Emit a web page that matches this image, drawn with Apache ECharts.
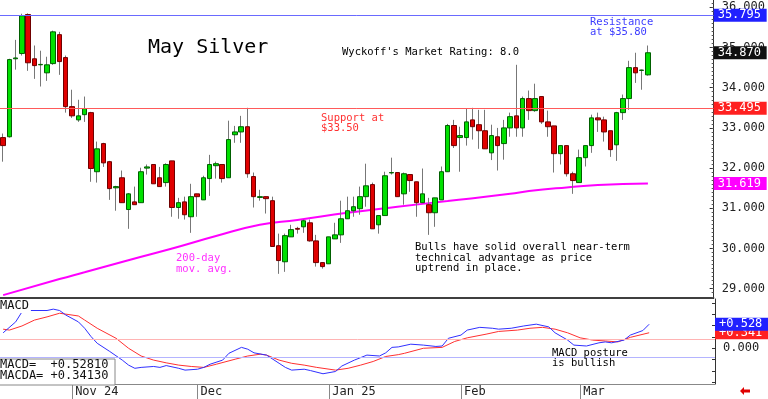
<!DOCTYPE html>
<html>
<head>
<meta charset="utf-8">
<script src="https://cdn.jsdelivr.net/npm/echarts@6/dist/echarts.min.js"></script>
<style>
html,body{margin:0;padding:0;background:#fff}
#main{width:768px;height:399px}
</style>
</head>
<body>
<div id="main"></div>
<script>
// daily candles, Oct 17 2024 .. Mar 18 2025
const opens  = [32.76,32.78,34.72,34.85,35.82,34.72,34.57,34.37,34.60,35.32,34.75,33.53,33.20,33.33,33.38,31.91,32.61,32.16,31.51,31.76,
  30.97,31.16,31.14,32.00,32.09,31.76,31.64,32.18,31.02,31.16,30.79,31.36,31.21,31.74,32.06,32.09,31.76,32.83,32.90,33.03,
  31.79,31.27,31.29,31.19,30.07,29.67,30.29,30.50,30.54,30.64,30.19,29.65,29.62,30.24,30.34,30.74,30.94,30.99,31.29,31.59,
  30.59,30.82,31.88,31.89,31.36,31.84,31.66,31.14,31.09,30.89,31.21,31.91,33.06,32.76,32.76,33.20,33.08,32.93,32.38,32.78,
  32.61,33.00,33.30,33.00,33.73,33.43,33.78,33.15,33.05,32.36,32.56,31.86,31.64,32.26,32.56,33.25,33.20,32.93,32.58,33.38,
  33.73,34.50,34.43,34.32];
const closes = [32.56,34.70,34.74,35.79,34.62,34.55,34.58,34.57,35.39,34.65,33.53,33.30,33.30,33.48,31.99,32.48,32.13,31.49,31.54,31.14,
  31.36,31.09,31.91,32.03,31.61,31.54,32.09,31.02,31.14,30.84,31.29,31.29,31.76,32.09,32.11,31.74,32.71,32.90,33.03,31.86,
  31.29,31.29,31.24,30.05,29.70,30.32,30.47,30.48,30.69,30.19,29.65,29.55,30.29,30.34,30.74,30.94,31.04,31.29,31.56,30.49,
  30.82,31.81,31.89,31.29,31.86,31.69,31.14,31.36,30.89,31.26,31.91,33.06,32.56,32.81,33.15,33.03,32.93,32.48,32.81,32.56,
  33.00,33.28,33.00,33.73,33.43,33.73,33.15,33.03,32.36,32.56,31.86,31.69,32.26,32.56,33.25,33.20,32.90,32.46,33.38,33.73,
  34.50,34.37,34.44,34.87];
const lows   = [32.16,32.76,34.45,34.80,34.42,34.22,34.03,34.17,34.57,34.32,33.38,33.25,33.15,33.15,31.66,31.64,32.03,31.21,30.94,31.14,
  30.49,31.09,31.14,31.84,31.61,31.54,31.54,30.79,30.74,30.72,30.39,30.79,31.21,31.31,31.74,31.64,31.76,32.63,32.63,31.76,
  31.02,31.19,30.87,30.05,29.37,29.42,30.29,30.37,30.39,30.17,29.55,29.50,29.62,30.24,30.14,30.74,30.79,30.84,31.04,30.49,
  30.37,30.82,31.84,31.29,31.09,31.41,30.79,31.14,30.34,30.54,31.21,31.91,32.50,31.91,32.56,32.71,32.48,32.48,32.20,31.94,
  32.21,32.78,32.78,32.78,33.20,33.40,33.10,32.78,31.89,32.09,31.79,31.36,31.64,32.04,32.38,32.90,32.66,32.28,32.18,33.20,
  33.45,34.12,33.95,34.30];
const highs  = [32.86,34.72,35.19,35.84,35.85,35.05,34.92,34.77,35.42,35.39,34.80,33.95,33.70,33.78,33.40,32.66,32.63,32.18,31.56,31.94,
  31.38,31.54,32.01,32.09,32.09,32.03,32.12,32.18,31.26,31.29,31.61,31.36,31.81,32.33,32.16,32.09,33.18,33.05,33.30,33.50,
  31.89,31.46,31.29,31.29,30.37,30.37,30.59,30.54,30.72,30.72,30.34,29.65,30.29,30.64,31.19,31.29,31.29,31.54,32.11,31.64,
  30.82,31.91,32.26,31.89,31.89,31.84,31.66,31.99,31.26,31.26,32.04,33.10,33.20,33.03,33.48,33.50,33.45,33.45,33.08,33.00,
  33.20,33.38,34.57,33.78,33.93,34.10,33.78,33.43,33.05,32.56,32.56,31.91,32.46,32.56,33.33,33.38,33.28,32.93,33.40,33.83,
  34.67,34.87,34.45,35.05];

// [day index, value]
const maPoints = [[0,28.84],[9,29.24],[13,29.41],[20,29.71],[27,30.00],[34,30.31],[41,30.59],[47,30.71],[55,30.89],
  [63,31.04],[71,31.18],[81,31.36],[84,31.43],[90,31.52],[95,31.58],[103,31.619]];
const macdPoints = [[0,0.34],[2,0.58],[3,0.80],[4,0.83],[7,0.83],[8,0.86],[9,0.83],[10,0.73],[12,0.58],[13,0.44],[14,0.26],
  [15,0.11],[17,-0.07],[19,-0.26],[20,-0.37],[21,-0.44],[22,-0.42],[24,-0.40],[25,-0.42],[26,-0.38],[28,-0.44],[29,-0.48],
  [31,-0.46],[32,-0.42],[33,-0.35],[35,-0.26],[36,-0.11],[38,0.02],[39,-0.02],[40,-0.10],[42,-0.15],[44,-0.33],[45,-0.42],
  [46,-0.48],[48,-0.46],[49,-0.49],[51,-0.56],[53,-0.51],[54,-0.39],[56,-0.26],[58,-0.15],[60,-0.17],[61,-0.10],[62,0.02],
  [63,0.03],[65,0.09],[67,0.07],[69,0.04],[70,0.05],[71,0.22],[73,0.29],[74,0.40],[76,0.46],[78,0.44],[79,0.42],[81,0.44],
  [83,0.49],[85,0.53],[87,0.47],[88,0.34],[90,0.18],[91,0.07],[93,0.05],[95,0.12],[96,0.14],[97,0.12],[99,0.18],[100,0.29],
  [102,0.39],[103,0.528]];
const signalPoints = [[0,0.42],[1,0.40],[3,0.49],[5,0.62],[7,0.69],[9,0.77],[10,0.75],[12,0.71],[13,0.62],[15,0.44],[18,0.22],
  [20,0.00],[22,-0.17],[24,-0.26],[26,-0.32],[28,-0.37],[30,-0.40],[32,-0.42],[34,-0.35],[37,-0.24],[39,-0.17],[41,-0.13],
  [42,-0.15],[44,-0.26],[46,-0.33],[48,-0.37],[50,-0.42],[53,-0.48],[55,-0.44],[57,-0.37],[59,-0.29],[61,-0.18],[63,-0.14],
  [64,-0.11],[67,0.00],[70,0.02],[72,0.15],[74,0.23],[77,0.31],[79,0.37],[82,0.40],[84,0.44],[86,0.46],[88,0.42],[90,0.34],
  [92,0.23],[94,0.18],[96,0.16],[98,0.14],[100,0.24],[103,0.341]];

const monthIdx = [11, 31, 52, 73, 92];
const monthLabels = ['Nov 24', 'Dec', 'Jan 25', 'Feb', 'Mar'];
const priceTicks = [29, 30, 31, 32, 33, 34, 35, 36];
const macdTicks = [-0.75, -0.5, -0.25, 0, 0.25, 0.5, 0.75, 1];
const resistance = 35.795, support = 33.495, lastClose = 34.870, lastMa = 31.619;
const lastMacd = 0.528, lastSignal = 0.341;
const totalSlots = 114;

const categories = [];
for (let i = 0; i < totalSlots; i++) categories.push(i);
const minorTicks = [];
for (let v = 288; v <= 362; v++) minorTicks.push(v / 10);

const wicks = opens.map((o, i) => [o, closes[i], lows[i], highs[i]]);
const bodies = opens.map((o, i) => [o, closes[i], Math.min(o, closes[i]), Math.max(o, closes[i])]);

const mono = 'DejaVu Sans Mono';
const clear = {color: 'rgba(0,0,0,0)'};

function boxLabel(text, bg) {
  return {show: true, position: 'end', distance: 0, formatter: text, color: '#fff', backgroundColor: bg,
    fontFamily: mono, fontSize: 12, lineHeight: 13, width: 47, padding: [0, 2, 0, 4]};
}
function note(text, x, top, color, size, lh) {
  return {type: 'text', x: x, y: top, z: 50, silent: true,
    style: {text: text, fill: color, font: size + 'px "' + mono + '"', lineHeight: lh, verticalAlign: 'top'}};
}

const chart = echarts.init(document.getElementById('main'));
chart.setOption({
  animation: false,
  backgroundColor: '#fff',
  grid: [
    {left: 0, right: 53, top: 0, height: 298},
    {left: 0, right: 53, top: 299, height: 85}
  ],
  xAxis: [
    {type: 'category', gridIndex: 0, data: categories, boundaryGap: true,
      axisLine: {onZero: false, lineStyle: {color: '#000', width: 1.5}}, axisTick: {show: false}, axisLabel: {show: false}},
    {type: 'category', gridIndex: 1, data: categories, boundaryGap: true,
      axisLine: {onZero: false, lineStyle: {color: '#888'}},
      axisTick: {show: true, alignWithLabel: true, length: 15, lineStyle: {color: '#888'},
        interval: (i) => monthIdx.includes(i)},
      axisLabel: {interval: (i) => monthIdx.includes(i), formatter: (v, i) => monthLabels[monthIdx.indexOf(i)],
        align: 'left', padding: [0, 0, 0, 3], margin: 2, fontFamily: mono, fontSize: 12, color: '#222'}}
  ],
  yAxis: [
    {type: 'value', gridIndex: 0, position: 'right', min: 28.769, max: 36.182, splitLine: {show: false},
      axisLine: {show: true, lineStyle: {color: '#333'}},
      axisTick: {show: true, inside: true, length: 4, customValues: priceTicks, lineStyle: {color: '#333'}},
      axisLabel: {customValues: priceTicks, formatter: (v) => v.toFixed(3), margin: 8,
        fontFamily: mono, fontSize: 12, color: '#222'}},
    {type: 'value', gridIndex: 0, position: 'right', min: 28.769, max: 36.182, splitLine: {show: false},
      axisLine: {show: false},
      axisTick: {show: true, inside: true, length: 2, customValues: minorTicks, lineStyle: {color: '#555'}},
      axisLabel: {show: false}},
    {type: 'value', gridIndex: 1, position: 'right', min: -0.785, max: 1.083, splitLine: {show: false},
      axisLine: {show: true, lineStyle: {color: '#333'}},
      axisTick: {show: true, inside: true, length: 3, customValues: macdTicks, lineStyle: {color: '#333'}},
      axisLabel: {customValues: [0], formatter: () => '0.000', margin: 8, fontFamily: mono, fontSize: 12, color: '#222'}}
  ],
  series: [
    {
      name: 'ma200', type: 'line', xAxisIndex: 0, yAxisIndex: 0, data: maPoints, smooth: true, symbol: 'none', z: 1,
      lineStyle: {color: '#ff00ff', width: 2},
      markLine: {silent: true, symbol: ['none', 'none'], animation: false,
        data: [{yAxis: lastMa, lineStyle: clear, label: boxLabel('31.619', '#ff00ff')}]}
    },
    {
      name: 'wicks', type: 'candlestick', xAxisIndex: 0, yAxisIndex: 0, data: wicks, barWidth: 1, z: 2,
      itemStyle: {color: '#777', color0: '#777', borderColor: '#777', borderColor0: '#777', borderColorDoji: '#777', borderWidth: 1}
    },
    {
      name: 'bodies', type: 'candlestick', xAxisIndex: 0, yAxisIndex: 0, data: bodies, barWidth: 5, z: 3,
      itemStyle: {color: '#00e000', color0: '#e00000', borderColor: '#006000', borderColor0: '#700000',
        borderColorDoji: '#006000', borderWidth: 1},
      markLine: {silent: true, symbol: ['none', 'none'], animation: false,
        data: [
          {yAxis: resistance, lineStyle: {color: '#6a6aff', width: 1, type: 'solid'}, label: boxLabel('35.795', '#2020ff')},
          {yAxis: support, lineStyle: {color: '#ff5a5a', width: 1, type: 'solid'}, label: boxLabel('33.495', '#ff2020')},
          {yAxis: lastClose, lineStyle: clear, label: boxLabel('34.870', '#111')}
        ]}
    },
    {
      name: 'signal', type: 'line', xAxisIndex: 1, yAxisIndex: 2, data: signalPoints, symbol: 'none',
      lineStyle: {color: '#ff3030', width: 1},
      markLine: {silent: true, symbol: ['none', 'none'], animation: false,
        data: [
          {yAxis: 0.2, lineStyle: {color: '#ffb4b4', width: 1, type: 'solid'}, label: {show: false}},
          {yAxis: -0.2, lineStyle: {color: '#b4b4ff', width: 1, type: 'solid'}, label: {show: false}},
          {yAxis: lastSignal, lineStyle: clear, label: boxLabel('+0.341', '#ff2020')},
          {yAxis: lastMacd, lineStyle: clear, label: boxLabel('+0.528', '#2020ff')}
        ]}
    },
    {
      name: 'macd', type: 'line', xAxisIndex: 1, yAxisIndex: 2, data: macdPoints, symbol: 'none',
      lineStyle: {color: '#3030ff', width: 1}
    }
  ],
  graphic: [
    {type: 'text', x: 148, y: 47.5, z: 50, silent: true,
      style: {text: 'May Silver', fill: '#000', font: '20px "' + mono + '"', verticalAlign: 'middle'}},
    note("Wyckoff's Market Rating: 8.0", 342, 47.5, '#000', 10.5, 10.5),
    note('Resistance\nat $35.80', 590, 16.75, '#3c3cff', 10.5, 10.5),
    note('Support at\n$33.50', 321, 112.75, '#ff3030', 10.5, 10.5),
    note('200-day\nmov. avg.', 176, 252.5, '#ff30ff', 10.5, 11),
    note('Bulls have solid overall near-term\ntechnical advantage as price\nuptrend in place.', 415, 242.25, '#000', 10.5, 10.5),
    note('MACD posture\nis bullish', 552, 348.5, '#000', 10.5, 10),
    {type: 'text', x: 0, y: 306, z: 60, silent: true,
      style: {text: 'MACD', fill: '#111', font: '12px "' + mono + '"', verticalAlign: 'middle',
        backgroundColor: '#fff', padding: [1, 2, 1, 0]}},
    {type: 'rect', z: 40, silent: true, shape: {x: -1, y: 359, width: 116, height: 26},
      style: {fill: '#fff', stroke: '#888', lineWidth: 1}},
    note('MACD=  +0.52810\nMACDA= +0.34130', 0, 359.5, '#111', 12, 11),
    {type: 'polygon', z: 50, silent: true,
      shape: {points: [[740, 391], [744, 387], [744, 389.5], [750, 389.5], [750, 392.5], [744, 392.5], [744, 395]]},
      style: {fill: '#e00000'}}
  ]
});
</script>
</body>
</html>
